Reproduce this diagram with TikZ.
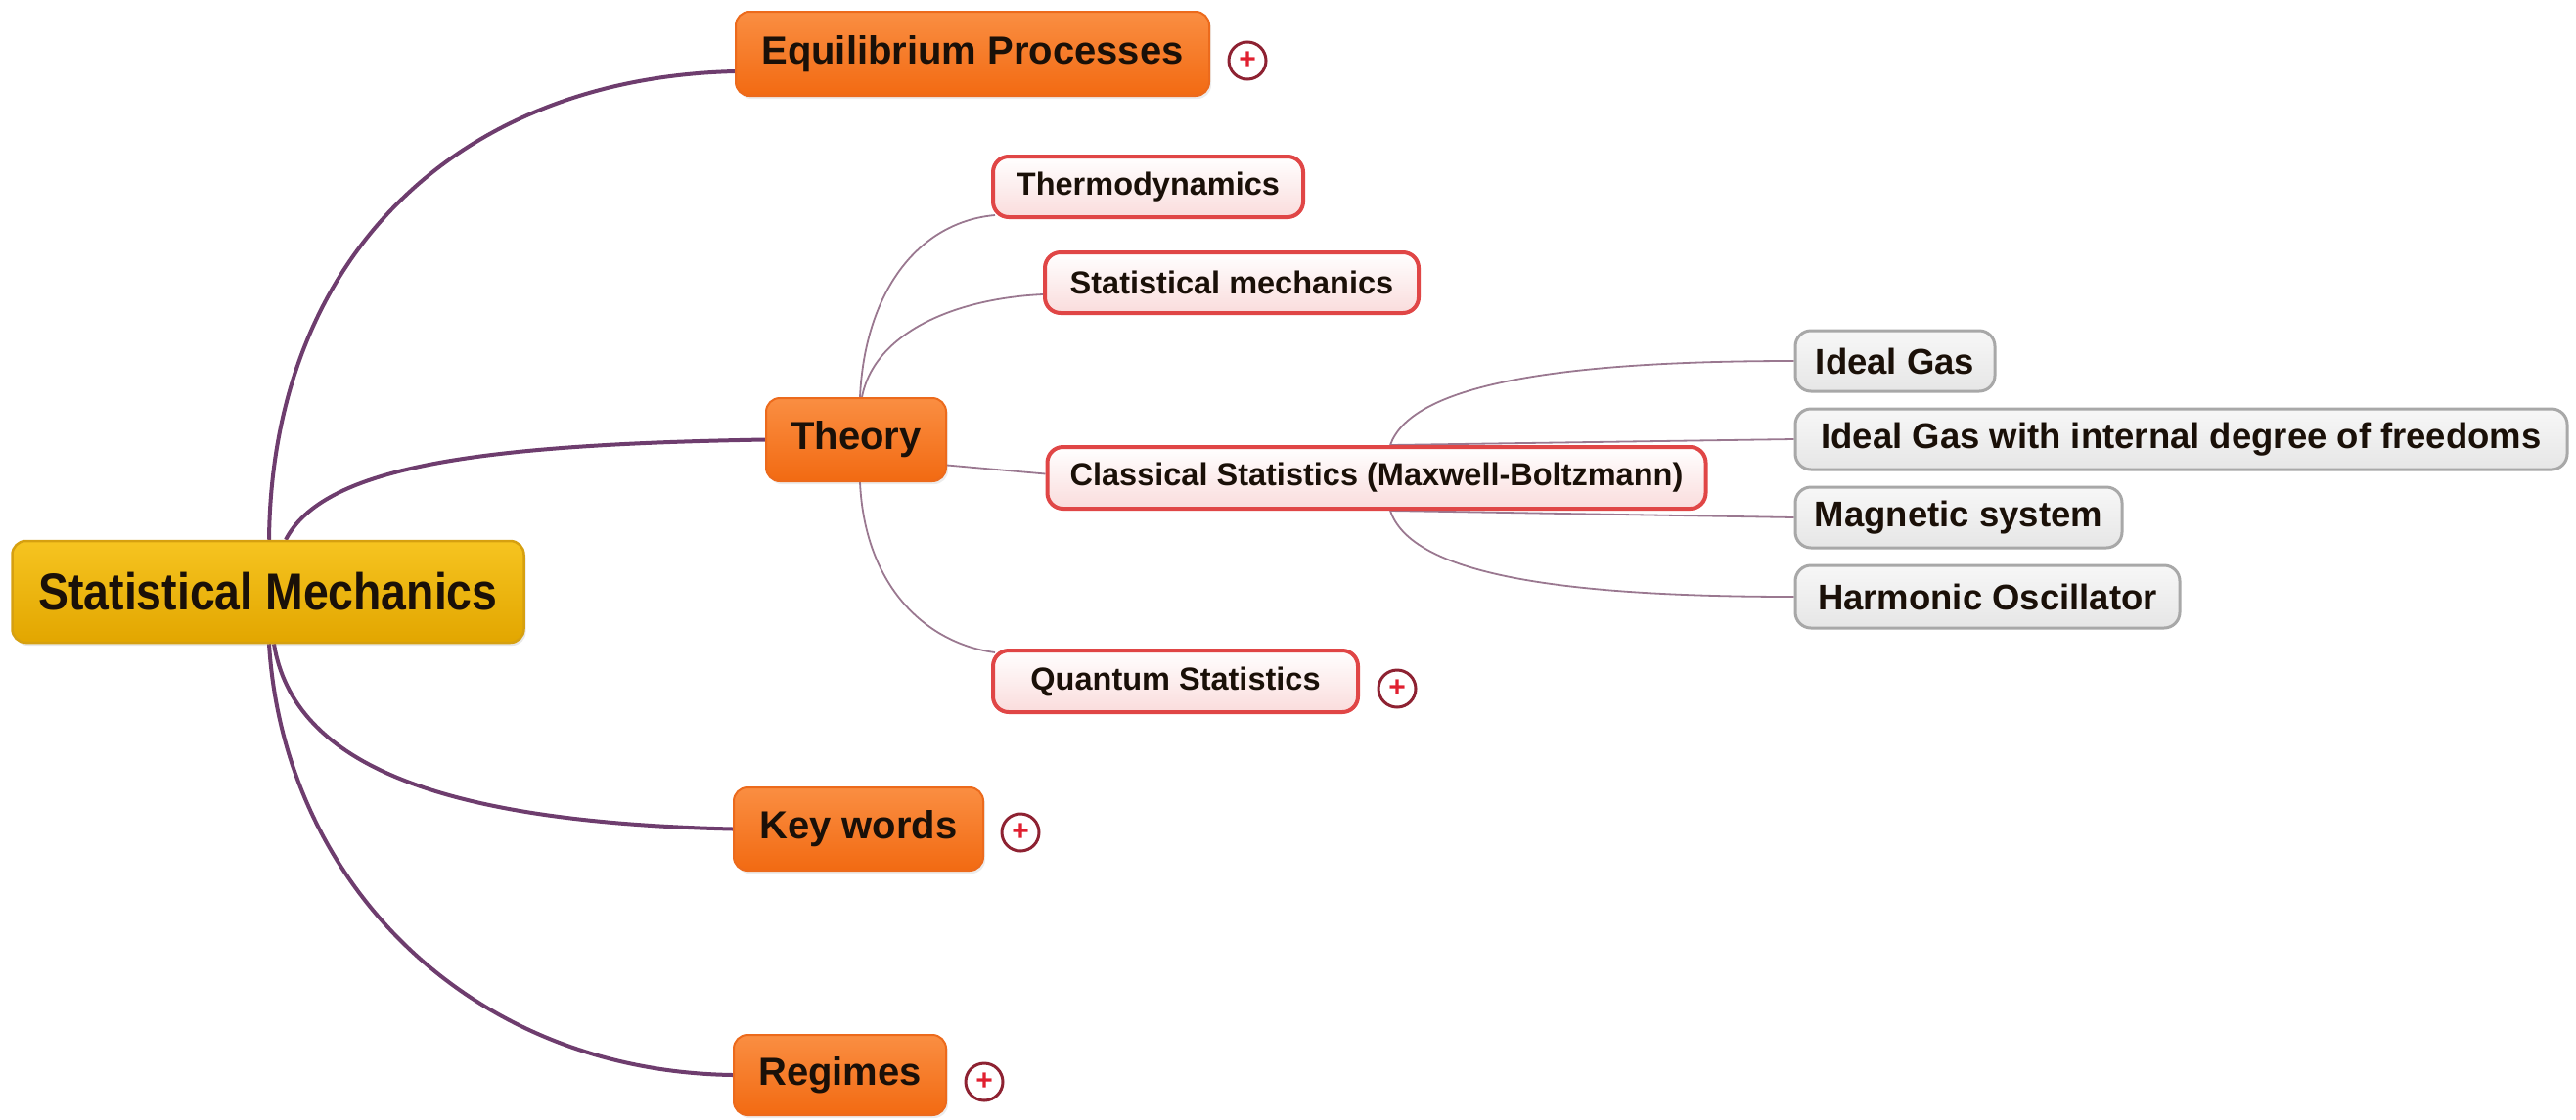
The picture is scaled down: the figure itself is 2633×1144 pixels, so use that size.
\documentclass[tikz,border=0pt]{standalone}
\usepackage{fontspec}
\setmainfont{Liberation Sans}
\usetikzlibrary{backgrounds,shadows}
\definecolor{txt}{HTML}{1A1008}
\definecolor{rootT}{HTML}{F6C420}
\definecolor{rootBot}{HTML}{E2A600}
\definecolor{rootB}{HTML}{D6A010}
\definecolor{orT}{HTML}{FA8E42}
\definecolor{orBot}{HTML}{F26A12}
\definecolor{orB}{HTML}{EC6A1C}
\definecolor{redB}{HTML}{E04646}
\definecolor{redBot}{HTML}{FADCDC}
\definecolor{greyB}{HTML}{A8A8A8}
\definecolor{greyT}{HTML}{F7F7F7}
\definecolor{greyBot}{HTML}{E6E6E6}
\definecolor{mainln}{HTML}{6E3D6E}
\definecolor{thinln}{HTML}{9A7890}
\definecolor{plusB}{HTML}{8E2232}
\definecolor{plusR}{HTML}{E02030}
\newcommand{\sx}[2]{\scalebox{#1}[1]{#2}}
\tikzset{
  box/.style={rounded corners=14pt, inner sep=0pt, text=txt, align=center},
  rootbox/.style={box, draw=rootB, line width=2.5pt, top color=rootT, bottom color=rootBot,
    minimum width=523pt, minimum height=104pt, font=\bfseries\fontsize{53}{60}\selectfont,
    drop shadow={shadow xshift=2pt, shadow yshift=-3pt, opacity=0.18}},
  orbox/.style={box, draw=orB, line width=2pt, top color=orT, bottom color=orBot,
    minimum height=86pt, font=\bfseries\fontsize{40}{46}\selectfont,
    drop shadow={shadow xshift=2pt, shadow yshift=-3pt, opacity=0.15}},
  redbox/.style={box, rounded corners=16pt, draw=redB, line width=4pt, top color=white, bottom color=redBot,
    minimum height=62pt, font=\bfseries\fontsize{32.5}{37}\selectfont},
  greybox/.style={box, rounded corners=16pt, draw=greyB, line width=3pt, top color=greyT, bottom color=greyBot,
    minimum height=62pt, font=\bfseries\fontsize{36.5}{42}\selectfont},
  plusicon/.style={circle, draw=plusB, line width=3pt, fill=white, minimum size=38pt, inner sep=0pt,
    text=plusR, font=\bfseries\fontsize{30}{32}\selectfont},
  mainlink/.style={draw=mainln, line width=4pt},
  thinlink/.style={draw=thinln, line width=1.8pt},
}
\begin{document}
\begin{tikzpicture}[x=1pt, y=-1pt]
\useasboundingbox (0,0) rectangle (2633,1144);
% nodes
\node[rootbox] (root) at (274,605) {\sx{0.875}{Statistical Mechanics}};
\node[orbox, minimum width=484pt] (eq) at (994,55) {Equilibrium Processes};
\node[orbox, minimum width=184pt, minimum height=85pt] (theory) at (875,449.5) {Theory};
\node[orbox, minimum width=255pt, minimum height=85pt] (keyw) at (877.5,847.5) {Key words};
\node[orbox, minimum width=217pt, minimum height=82pt] (reg) at (858.5,1099) {Regimes};
\node[redbox, minimum width=317pt] (thermo) at (1173.5,191) {Thermodynamics};
\node[redbox, minimum width=382pt] (statm) at (1259,289) {Statistical mechanics};
\node[redbox, minimum width=673pt, minimum height=63pt] (classical) at (1407,488.5) {Classical Statistics (Maxwell-Boltzmann)};
\node[redbox, minimum width=373pt, minimum height=63pt] (quantum) at (1201.5,696.5) {Quantum Statistics};
\node[greybox, minimum width=204pt] (ig) at (1937,369) {Ideal Gas};
\node[greybox, minimum width=789pt] (igi) at (2229.5,449) {Ideal Gas with internal degree of freedoms};
\node[greybox, minimum width=334pt] (mag) at (2002,529) {Magnetic system};
\node[greybox, minimum width=393pt, minimum height=64pt] (harm) at (2031.5,610) {Harmonic Oscillator};
% plus icons
\node[plusicon] (eqplus) at (1275,62) {+};
\node[plusicon] (qplus) at (1428,704) {+};
\node[plusicon] (kplus) at (1043,851) {+};
\node[plusicon] (rplus) at (1006,1106) {+};
% connectors
\begin{pgfonlayer}{background}
\draw[mainlink] ([xshift=1pt]root.north) .. controls +(3,-293) and +(-280,7) .. ([yshift=-18pt]eq.west);
\draw[mainlink] ([xshift=18pt]root.north) .. controls +(38,-73) and +(-302,5) .. (theory.west);
\draw[mainlink] ([xshift=6pt]root.south) .. controls +(20,123) and +(-300,-7) .. (keyw.west);
\draw[mainlink] ([xshift=1pt]root.south) .. controls +(15,243) and +(-270,-4) .. (reg.west);
\draw[thinlink] ([xshift=4pt]theory.north) .. controls +(5,-107) and +(-79,7) .. ([xshift=4pt,yshift=4pt]thermo.south west);
\draw[thinlink] ([xshift=6pt]theory.north) .. controls +(13,-67) and +(-88,4) .. ([yshift=-12pt]statm.west);
\draw[thinlink] ([yshift=-26pt]theory.east) -- ([yshift=4pt]classical.west);
\draw[thinlink] ([xshift=4pt]theory.south) .. controls +(5,108) and +(-69,-9) .. ([xshift=4pt,yshift=-4pt]quantum.north west);
\draw[thinlink] ([xshift=14pt]classical.north) .. controls +(20,-57) and +(-262,0) .. (ig.west);
\draw[thinlink] ([xshift=14pt]classical.north) -- (igi.west);
\draw[thinlink] ([xshift=14pt]classical.south) -- (mag.west);
\draw[thinlink] ([xshift=14pt]classical.south) .. controls +(20,60) and +(-262,0) .. (harm.west);
\end{pgfonlayer}
\end{tikzpicture}
\end{document}
